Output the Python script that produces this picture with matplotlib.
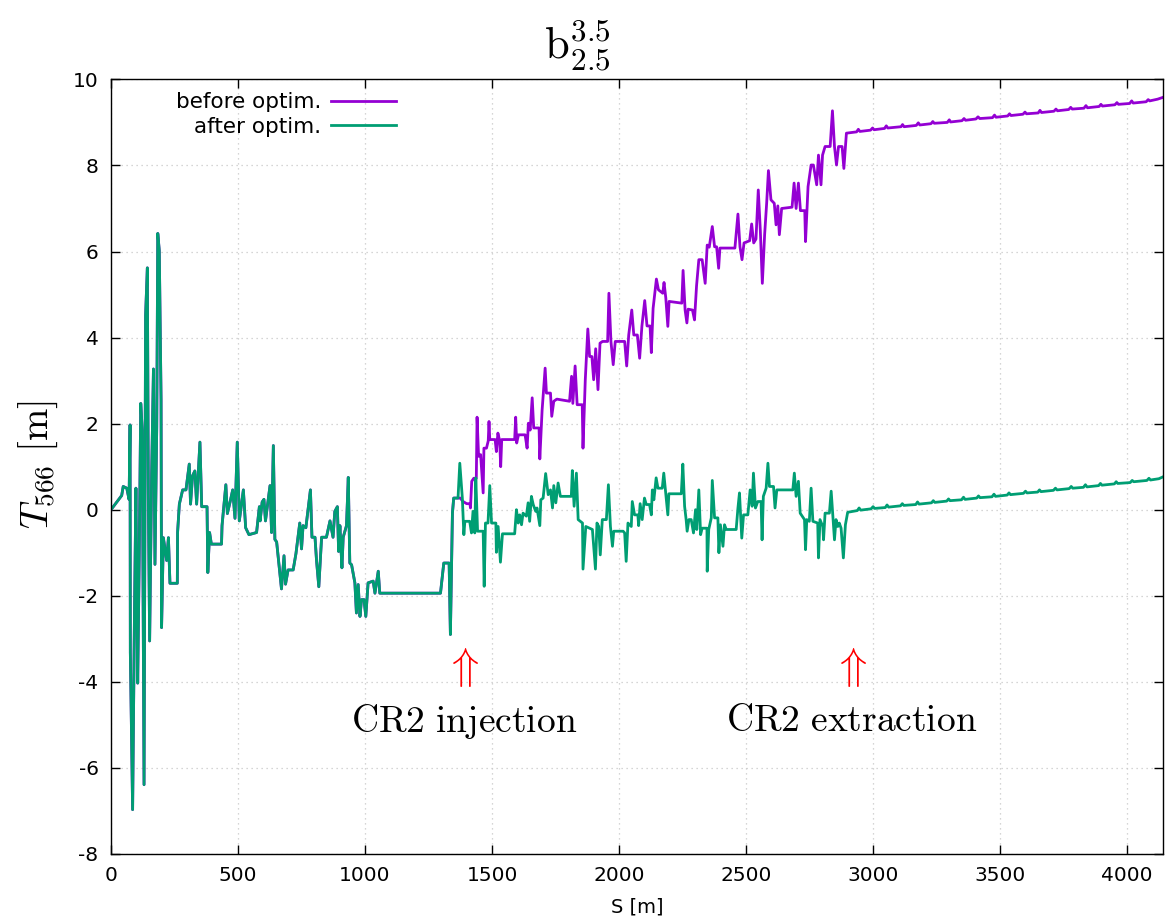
import numpy as np
import matplotlib.pyplot as plt

plt.rcParams['mathtext.fontset'] = 'cm'
plt.rcParams['font.family'] = 'DejaVu Sans'
plt.rcParams['axes.unicode_minus'] = False

# --- data: S [m] and T566 [m] ---
# part where both lattices coincide
s_common = [0, 42, 48, 62, 71, 75, 76, 85, 92, 98, 105, 111, 117, 123, 130, 136,
            143, 147, 152, 160, 167, 173, 180, 184, 190, 197, 199, 206, 219, 226,
            232, 261, 262, 269, 282, 295, 308, 313, 321, 330, 337, 350, 357, 378,
            381, 388, 395, 435, 437, 452, 458, 471, 479, 488, 497, 505, 521, 530,
            543, 573, 584, 587, 595, 602, 608, 626, 632, 639, 645, 652, 671, 681,
            687, 697, 717, 728, 743, 750, 756, 767, 785, 791, 803, 809, 818, 829,
            848, 862, 874, 881, 891, 896, 901, 909, 914, 927, 934, 940, 947, 960,
            966, 973, 980, 986, 996, 1003, 1012, 1032, 1039, 1052, 1058, 1297,
            1310, 1331, 1336, 1344, 1349, 1366]
t_common = [0.0, 0.33, 0.54, 0.5, 0.24, 1.97, -3.32, -6.97, -2.61, 0.5, -4.03, -1.09,
            2.47, 1.84, -6.39, 4.51, 5.62, 0.24, -3.05, 0.86, 3.27, -1.27, 1.93,
            6.42, 6.02, 2.55, -2.74, -0.65, -1.18, -0.65, -1.71, -1.71, -0.53, 0.13,
            0.46, 0.46, 1.06, 0.13, 0.79, 0.9, 0.13, 1.57, 0.07, 0.07, -1.46, -0.53,
            -0.8, -0.8, -0.37, 0.58, -0.09, 0.24, 0.46, -0.2, 1.57, -0.26, 0.46,
            -0.42, -0.58, -0.53, 0.07, -0.26, 0.18, 0.24, -0.26, 0.56, -0.53, 1.49,
            -0.69, -0.75, -1.84, -1.07, -1.73, -1.4, -1.4, -1.02, -0.31, -0.91,
            -0.37, -0.42, 0.46, -0.64, -0.64, -1.18, -1.79, -0.64, -0.64, -0.26,
            -0.64, -0.04, 0.07, -0.97, -0.37, -1.35, -0.64, -0.37, 0.75, -1.24,
            -1.28, -1.7, -2.4, -1.74, -2.48, -2.09, -2.09, -2.48, -1.7, -1.66,
            -1.94, -1.43, -1.94, -1.94, -1.24, -1.24, -2.9, -0.08, 0.27, 0.27]

# before optimisation, after CR2 injection
s_before = [1375, 1384, 1386, 1400, 1413, 1415, 1420, 1428, 1438, 1441, 1447, 1455,
            1465, 1468, 1478, 1485, 1488, 1491, 1512, 1517, 1523, 1530, 1534, 1538,
            1589, 1593, 1597, 1604, 1630, 1638, 1643, 1650, 1658, 1664, 1685, 1688,
            1697, 1709, 1714, 1730, 1735, 1743, 1755, 1805, 1813, 1818, 1827, 1835,
            1855, 1858, 1867, 1877, 1884, 1893, 1900, 1908, 1917, 1925, 1935, 1955,
            1960, 1968, 1977, 1985, 2022, 2030, 2038, 2050, 2058, 2072, 2081, 2090,
            2101, 2110, 2122, 2127, 2134, 2147, 2155, 2172, 2177, 2184, 2192, 2197,
            2247, 2252, 2260, 2267, 2272, 2289, 2297, 2305, 2314, 2327, 2339, 2347,
            2355, 2367, 2376, 2384, 2392, 2397, 2456, 2468, 2476, 2484, 2492, 2514,
            2522, 2530, 2539, 2548, 2556, 2564, 2573, 2581, 2588, 2598, 2611, 2618,
            2625, 2631, 2640, 2681, 2689, 2697, 2706, 2714, 2731, 2734, 2744, 2756,
            2765, 2778, 2785, 2795, 2801, 2811, 2831, 2840, 2848, 2856, 2864, 2878,
            2885, 2895,
            2935, 2942, 2948, 2990, 2998, 3004, 3045, 3052, 3058, 3110, 3116, 3122,
            3170, 3178, 3184, 3228, 3235, 3241, 3292, 3300, 3305, 3350, 3358, 3364,
            3405, 3413, 3420, 3470, 3478, 3484, 3530, 3537, 3543, 3590, 3598, 3604,
            3650, 3657, 3663, 3712, 3720, 3726, 3770, 3778, 3784, 3830, 3838, 3844,
            3890, 3897, 3903, 3952, 3960, 3966, 4010, 4018, 4024, 4075, 4083, 4089,
            4120, 4140]
t_before = [0.27, 0.2, 0.19, 0.14, 0.14, 0.04, 0.66, 0.73, 0.73, 2.15, 1.24, 1.28,
            0.39, 1.43, 1.43, 1.6, 2.05, 1.63, 1.63, 1.35, 1.78, 1.6, 1.0, 1.63,
            1.63, 2.15, 1.55, 1.74, 1.74, 1.43, 2.01, 1.85, 2.6, 1.9, 1.9, 1.18,
            2.31, 3.29, 2.71, 2.71, 2.17, 2.52, 2.57, 2.52, 3.1, 2.47, 3.34, 2.44,
            2.44, 1.43, 3.02, 4.2, 3.56, 3.56, 3.02, 3.74, 2.79, 3.87, 3.91, 3.91,
            5.03, 3.91, 3.37, 3.91, 3.91, 3.34, 4.06, 4.64, 4.06, 4.06, 3.52, 4.27,
            4.86, 4.27, 4.27, 3.65, 4.68, 5.36, 5.11, 5.03, 5.28, 4.92, 4.26, 4.84,
            4.8, 5.56, 4.64, 4.34, 4.66, 4.64, 4.41, 5.2, 5.81, 5.81, 5.26, 6.15,
            6.1, 6.58, 6.11, 6.11, 5.61, 6.08, 6.08, 6.87, 6.11, 5.81, 6.2, 6.25,
            6.64, 6.2, 6.29, 7.43, 6.5, 5.26, 6.39, 7.12, 7.88, 7.2, 7.12, 6.62,
            7.06, 6.39, 7.0, 7.03, 7.59, 7.0, 7.59, 6.95, 6.95, 6.23, 7.51, 8.01,
            8.01, 7.55, 8.24, 7.55, 8.24, 8.44, 8.44, 9.27, 8.44, 8.01, 8.44, 8.44,
            7.93, 8.75,
            8.78, 8.84, 8.79, 8.82, 8.87, 8.83, 8.86, 8.92, 8.87, 8.9, 8.95, 8.9,
            8.93, 8.99, 8.94, 8.97, 9.02, 8.98, 9.0, 9.06, 9.01, 9.04, 9.09, 9.05,
            9.08, 9.13, 9.09, 9.11, 9.17, 9.12, 9.15, 9.2, 9.16, 9.19, 9.24, 9.2,
            9.22, 9.28, 9.23, 9.26, 9.31, 9.27, 9.3, 9.35, 9.31, 9.33, 9.39, 9.34,
            9.37, 9.42, 9.38, 9.41, 9.46, 9.42, 9.44, 9.5, 9.45, 9.48, 9.53, 9.5,
            9.54, 9.58]

# after optimisation, after CR2 injection
s_after = [1373, 1383, 1389, 1393, 1412, 1419, 1425, 1432, 1436, 1443, 1465, 1469,
           1474, 1484, 1491, 1498, 1515, 1517, 1524, 1533, 1541, 1589, 1596, 1603,
           1609, 1616, 1622, 1635, 1642, 1648, 1655, 1662, 1672, 1677, 1688, 1692,
           1701, 1711, 1721, 1730, 1738, 1743, 1751, 1760, 1769, 1812, 1816, 1823,
           1832, 1839, 1856, 1858, 1869, 1895, 1907, 1913, 1920, 1926, 1934, 1950,
           1958, 1966, 1974, 1979, 2016, 2022, 2028, 2035, 2048, 2052, 2061, 2074,
           2077, 2083, 2091, 2100, 2107, 2120, 2127, 2131, 2137, 2146, 2153, 2170,
           2176, 2183, 2192, 2196, 2245, 2251, 2258, 2264, 2268, 2275, 2284, 2293,
           2301, 2306, 2314, 2321, 2327, 2346, 2347, 2353, 2363, 2367, 2376, 2389,
           2393, 2399, 2409, 2415, 2422, 2461, 2468, 2474, 2483, 2490, 2507, 2516,
           2524, 2529, 2537, 2546, 2559, 2563, 2568, 2579, 2586, 2592, 2608, 2614,
           2621, 2684, 2690, 2697, 2706, 2713, 2730, 2734, 2739, 2749, 2756, 2763,
           2782, 2785, 2791, 2802, 2805, 2811, 2828, 2835, 2841, 2848, 2854, 2861,
           2867, 2874, 2883, 2891, 2900,
           2938, 2945, 2951, 2992, 3000, 3006, 3048, 3055, 3061, 3108, 3115, 3121,
           3168, 3175, 3181, 3230, 3237, 3243, 3290, 3297, 3303, 3348, 3356, 3362,
           3408, 3415, 3421, 3468, 3476, 3482, 3528, 3535, 3541, 3592, 3600, 3606,
           3648, 3655, 3661, 3710, 3718, 3724, 3772, 3780, 3786, 3828, 3836, 3842,
           3888, 3895, 3901, 3950, 3957, 3963, 4012, 4020, 4026, 4078, 4086, 4092,
           4125, 4140]
t_after = [1.08, 0.27, -0.58, -0.27, -0.27, -0.54, -0.04, -0.54, 0.74, -0.5, -0.5,
           -1.78, -0.31, -0.31, 0.56, -0.31, -0.31, -0.99, -0.39, -1.22, -0.56,
           -0.56, 0.0, -0.31, -0.12, -0.35, -0.08, -0.15, 0.16, -0.27, 0.31, 0.12,
           -0.04, 0.04, -0.37, 0.23, 0.27, 0.84, 0.35, 0.46, 0.04, 0.56, 0.16, 0.62,
           0.31, 0.31, 0.91, 0.08, 0.85, -0.23, -0.31, -1.38, -0.39, -0.46, -1.38,
           -0.31, -0.39, -1.05, -0.23, -0.23, 0.58, -0.39, -0.85, -0.5, -0.5, -0.54,
           -1.2, -0.31, -0.39, 0.19, -0.12, -0.12, -0.37, 0.14, -0.23, 0.27, 0.12,
           0.12, -0.12, 0.46, 0.23, 0.74, 0.5, 0.5, 0.85, 0.43, -0.12, 0.37, 0.37,
           1.06, 0.08, -0.23, -0.5, -0.23, -0.23, -0.54, 0.0, -0.46, 0.46, -0.58,
           -0.43, -0.43, -1.43, -0.46, -0.19, 0.68, -0.19, -0.19, -1.0, -0.35,
           -0.85, -0.35, -0.46, -0.46, 0.04, 0.39, -0.66, -0.12, -0.12, 0.46, 0.08,
           0.85, 0.04, 0.19, 0.19, -0.7, 0.31, 0.5, 1.08, 0.54, 0.54, 0.04, 0.46,
           0.46, 0.85, 0.31, 0.66, -0.08, -0.23, -0.93, -0.23, -0.27, 0.5, -0.27,
           -0.31, -1.12, -0.23, -0.39, -0.7, -0.08, -0.08, 0.43, -0.08, -0.7,
           -0.23, -0.39, -0.31, -0.43, -1.12, -0.35, -0.06,
           -0.02, 0.04, -0.01, 0.02, 0.07, 0.03, 0.05, 0.11, 0.06, 0.09, 0.14, 0.1,
           0.12, 0.18, 0.13, 0.16, 0.21, 0.17, 0.2, 0.25, 0.21, 0.23, 0.29, 0.24,
           0.27, 0.32, 0.28, 0.3, 0.36, 0.31, 0.34, 0.39, 0.35, 0.38, 0.43, 0.39,
           0.41, 0.46, 0.42, 0.45, 0.5, 0.46, 0.49, 0.54, 0.5, 0.52, 0.58, 0.53,
           0.56, 0.61, 0.57, 0.6, 0.65, 0.61, 0.63, 0.68, 0.65, 0.68, 0.73, 0.69,
           0.72, 0.76]

markers_s = [1381, 2907]
markers_txt = ['CR2 injection', 'CR2 extraction']

xb = np.concatenate([s_common, s_before])
yb = np.concatenate([t_common, t_before])
xa = np.concatenate([s_common, s_after])
ya = np.concatenate([t_common, t_after])

fig = plt.figure(figsize=(11.65, 9.23), dpi=100)
ax = fig.add_axes([0.0953, 0.0748, 0.9027, 0.8392])

ax.plot(xb, yb, color='#9400D3', lw=2.0, label='before optim.')
ax.plot(xa, ya, color='#009E73', lw=2.0, label='after optim.')

ax.set_xlim(0, 4140)
ax.set_ylim(-8, 10)
ax.set_xticks(np.arange(0, 4001, 500))
ax.set_yticks(np.arange(-8, 11, 2))
ax.grid(True, color='#c8c8c8', linestyle=(0, (1, 3)), linewidth=0.9)
ax.tick_params(direction='in', length=6.5, width=1, top=True, right=True,
               labelsize=14.5)
ax.tick_params(axis='y', pad=9)
ax.tick_params(axis='x', pad=9)
for sp in ax.spines.values():
    sp.set_linewidth(1.0)

ax.set_xlabel('S [m]', fontsize=14, labelpad=9)

leg = ax.legend(loc='upper right', bbox_to_anchor=(0.283, 1.0), frameon=False,
                markerfirst=False, fontsize=15.5, handlelength=3.0,
                handletextpad=0.45, labelspacing=0.2, borderaxespad=0.2)

for s, txt in zip(markers_s, markers_txt):
    ax.text(s, -3.67, r'$\Uparrow$', color='red', fontsize=32,
            ha='center', va='center')
    ax.text(s + 10, -4.92, r'$\mathrm{' + txt.replace(' ', r'\ ') + '}$',
            fontsize=27, ha='center', va='center')

fig.text(0.496, 0.95, r'$\mathrm{b}_{2.5}^{3.5}$', fontsize=32,
         ha='center', va='center')
fig.text(0.033, 1 - 465 / 923, r'$T_{566}\ [\mathrm{m}]$', fontsize=28,
         rotation=90, ha='center', va='center')

fig.savefig('out.png', dpi=100)
